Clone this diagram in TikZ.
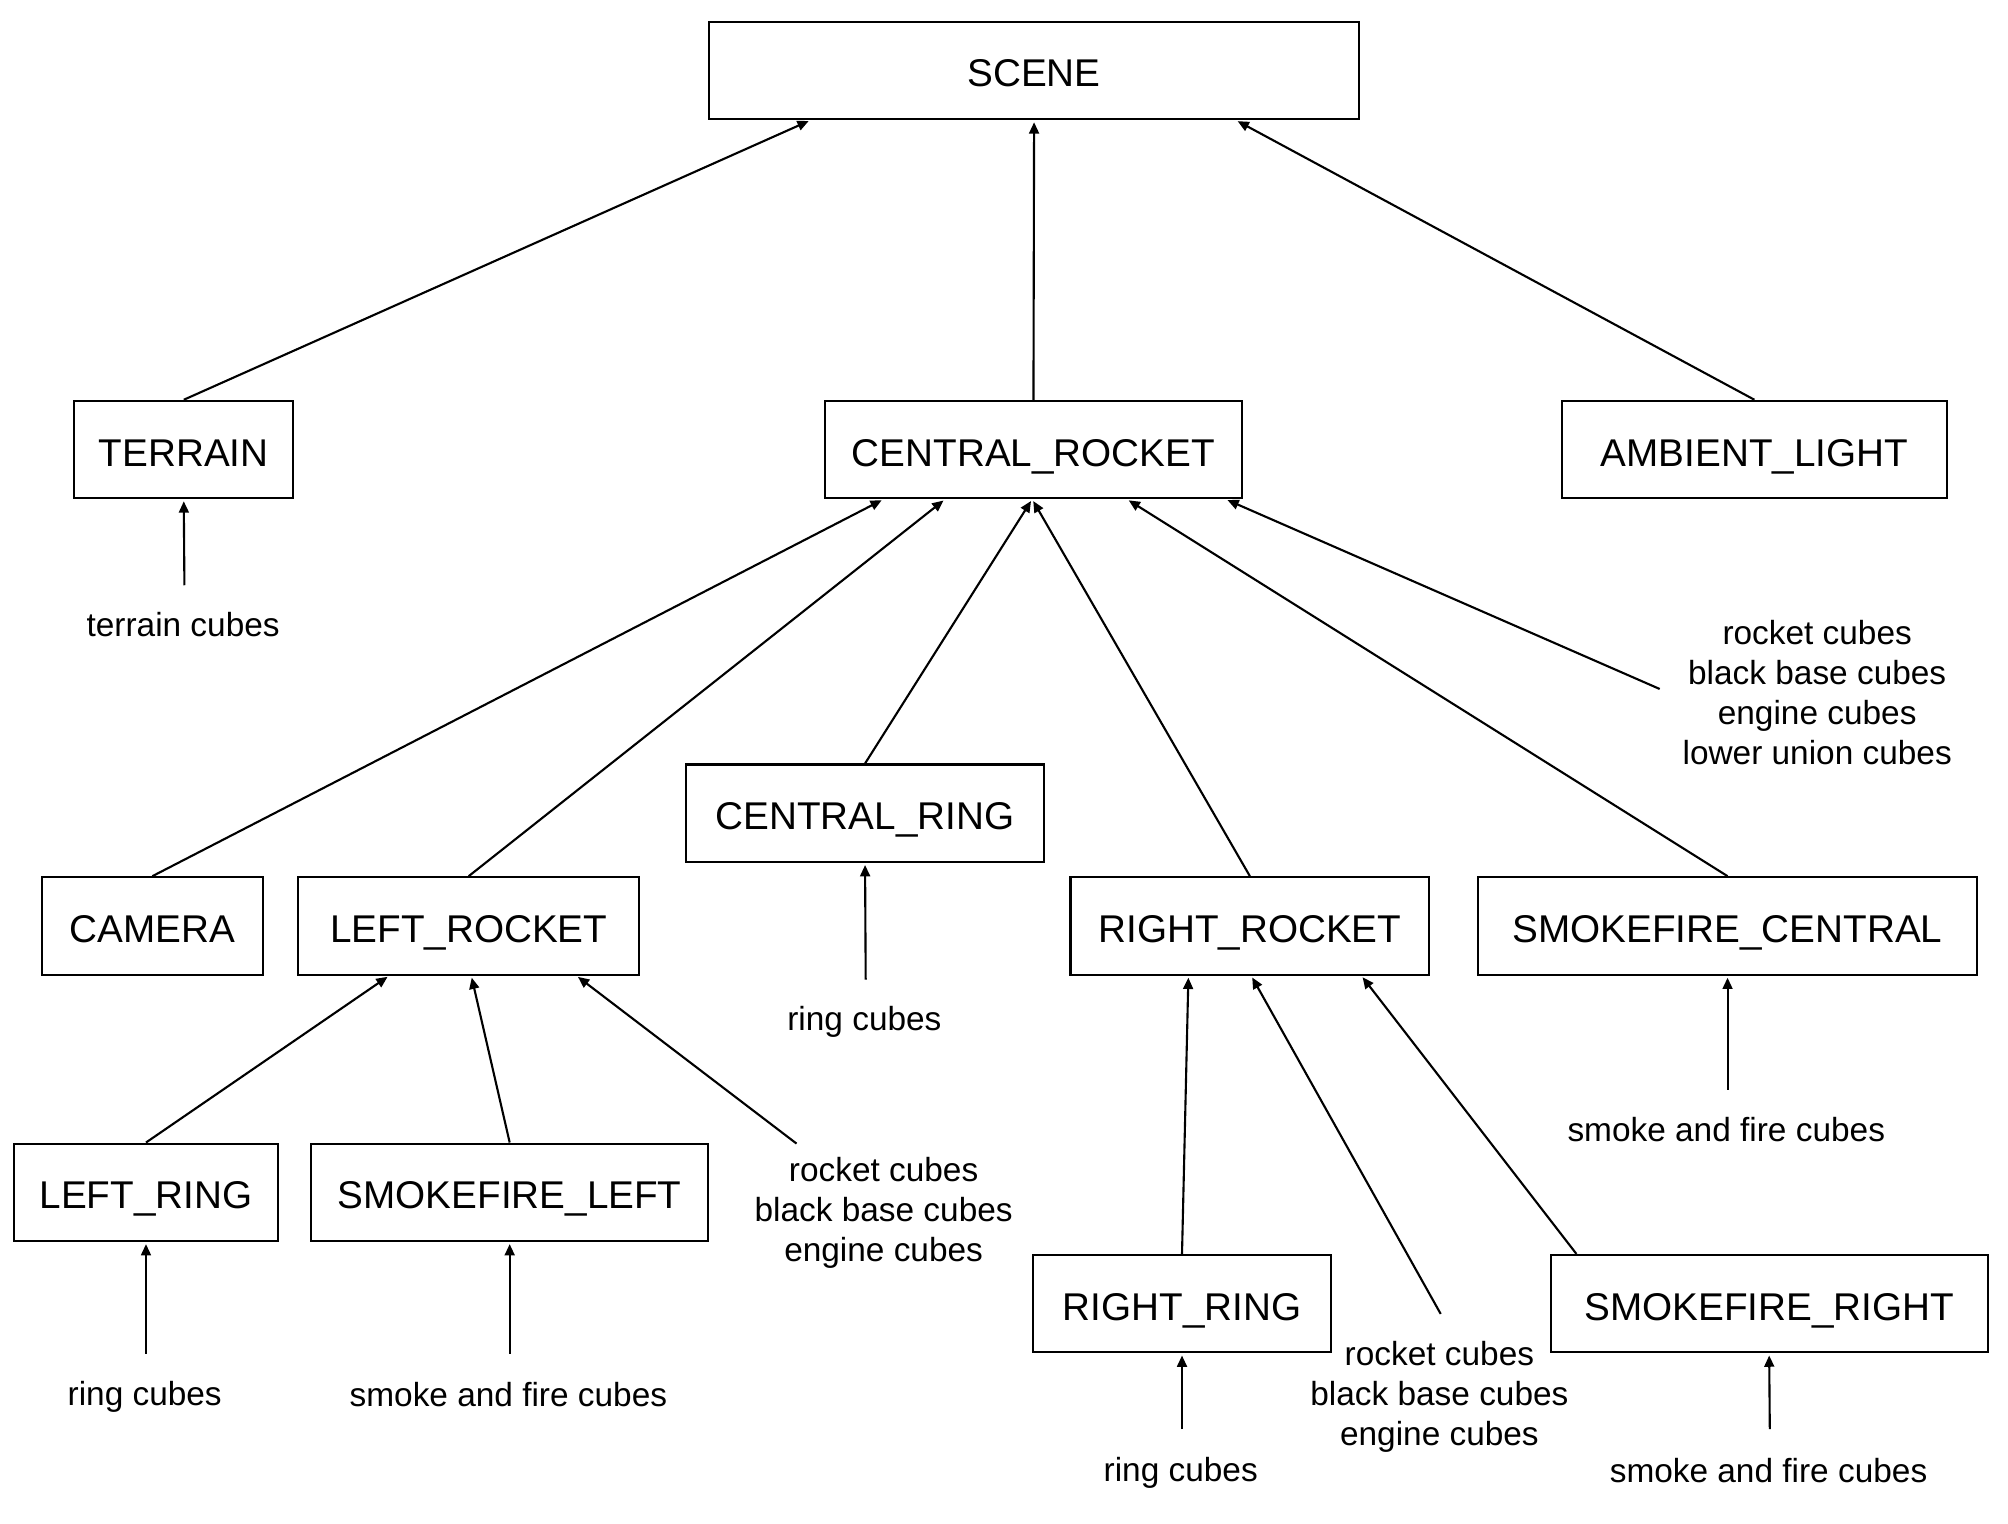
\documentclass[tikz,border=0pt]{standalone}
\usepackage{fontspec}
\setmainfont{Liberation Sans}
\usetikzlibrary{arrows.meta,calc}

\tikzset{
  box/.style={draw, line width=0.6pt, minimum height=0.973cm, inner sep=0pt,
    text height=9.4pt, text depth=0pt, font=\fontsize{11}{13}\selectfont},
  lbl/.style={align=center, inner sep=0pt, font=\fontsize{9.5}{11.4}\selectfont},
  arr/.style={-{Triangle[length=3.2pt,width=2.8pt]}, line width=0.6pt, shorten >=0.6pt}
}

\begin{document}
\begin{tikzpicture}[x=0.012806cm, y=-0.012806cm]
  \useasboundingbox (0,0) rectangle (1568,1190);

  % boxes
  \node[box, minimum width=6.493cm] (scene) at (807.5,55) {SCENE};
  \node[box, minimum width=2.190cm] (terrain) at (143.5,351) {TERRAIN};
  \node[box, minimum width=4.175cm] (crocket) at (807,351) {CENTRAL\_ROCKET};
  \node[box, minimum width=3.842cm] (ambient) at (1370,351) {AMBIENT\_LIGHT};
  \node[box, minimum width=3.573cm] (cring) at (675.5,635) {CENTRAL\_RING};
  \node[box, minimum width=2.203cm] (camera) at (119,723) {CAMERA};
  \node[box, minimum width=3.406cm] (lrocket) at (366,723) {LEFT\_ROCKET};
  \node[box, minimum width=3.586cm] (rrocket) at (976,723) {RIGHT\_ROCKET};
  \node[box, minimum width=4.994cm] (csmoke) at (1349,723) {SMOKEFIRE\_CENTRAL};
  \node[box, minimum width=2.638cm] (lring) at (114,931) {LEFT\_RING};
  \node[box, minimum width=3.970cm] (lsmoke) at (398,931) {SMOKEFIRE\_LEFT};
  \node[box, minimum width=2.971cm] (rring) at (923,1018) {RIGHT\_RING};
  \node[box, minimum width=4.367cm] (rsmoke) at (1381.5,1018) {SMOKEFIRE\_RIGHT};

  % cube lists
  \node[lbl] (tcubes) at (143,488) {terrain cubes};
  \node[lbl] (crcubes) at (1419,541) {rocket cubes\\black base cubes\\engine cubes\\lower union cubes};
  \node[lbl] (cringcubes) at (675,798) {ring cubes};
  \node[lbl] (csmokecubes) at (1348,882) {smoke and fire cubes};
  \node[lbl] (lrcubes) at (690,947) {rocket cubes\\black base cubes\\engine cubes};
  \node[lbl] (lringcubes) at (113,1091) {ring cubes};
  \node[lbl] (lsmokecubes) at (397,1089) {smoke and fire cubes};
  \node[lbl] (rrcubes) at (1124,1091) {rocket cubes\\black base cubes\\engine cubes};
  \node[lbl] (rringcubes) at (922,1150) {ring cubes};
  \node[lbl] (rsmokecubes) at (1381,1148) {smoke and fire cubes};

  % into the scene
  \draw[arr] (terrain.north) -- ($(scene.south)+(-174.5,0)$);
  \draw[arr] (crocket.north) -- (scene.south);
  \draw[arr] (ambient.north) -- ($(scene.south)+(157.5,0)$);
  \draw[arr] ($(tcubes)+(1,-31)$) -- (terrain.south);

  % into the central rocket
  \draw[arr] (camera.north) -- ($(crocket.south)+(-117,0)$);
  \draw[arr] (lrocket.north) -- ($(crocket.south)+(-69,0)$);
  \draw[arr] (cring.north) -- ($(crocket.south)+(-1,0)$);
  \draw[arr] (rrocket.north) -- ($(crocket.south)+(-1,0)$);
  \draw[arr] (csmoke.north) -- ($(crocket.south)+(73,0)$);
  \draw[arr] ($(crcubes)+(-123,-3)$) -- ($(crocket.south)+(150,0)$);
  \draw[arr] ($(cringcubes)+(1,-33)$) -- (cring.south);
  \draw[arr] ($(csmokecubes)+(1,-31)$) -- (csmoke.south);

  % left rocket
  \draw[arr] (lring.north) -- ($(lrocket.south)+(-62,0)$);
  \draw[arr] (lsmoke.north) -- ($(lrocket.south)+(2,0)$);
  \draw[arr] ($(lrcubes)+(-68,-54)$) -- ($(lrocket.south)+(84,0)$);
  \draw[arr] ($(lringcubes)+(1,-34)$) -- (lring.south);
  \draw[arr] ($(lsmokecubes)+(1,-32)$) -- (lsmoke.south);

  % right rocket
  \draw[arr] (rring.north) -- ($(rrocket.south)+(-48,0)$);
  \draw[arr] ($(rrcubes)+(1,-65)$) -- ($(rrocket.south)+(1,0)$);
  \draw[arr] ($(rsmoke.north)+(-150.5,0)$) -- ($(rrocket.south)+(87,0)$);
  \draw[arr] ($(rringcubes)+(1,-34)$) -- (rring.south);
  \draw[arr] ($(rsmokecubes)+(1,-32)$) -- (rsmoke.south);
\end{tikzpicture}
\end{document}
